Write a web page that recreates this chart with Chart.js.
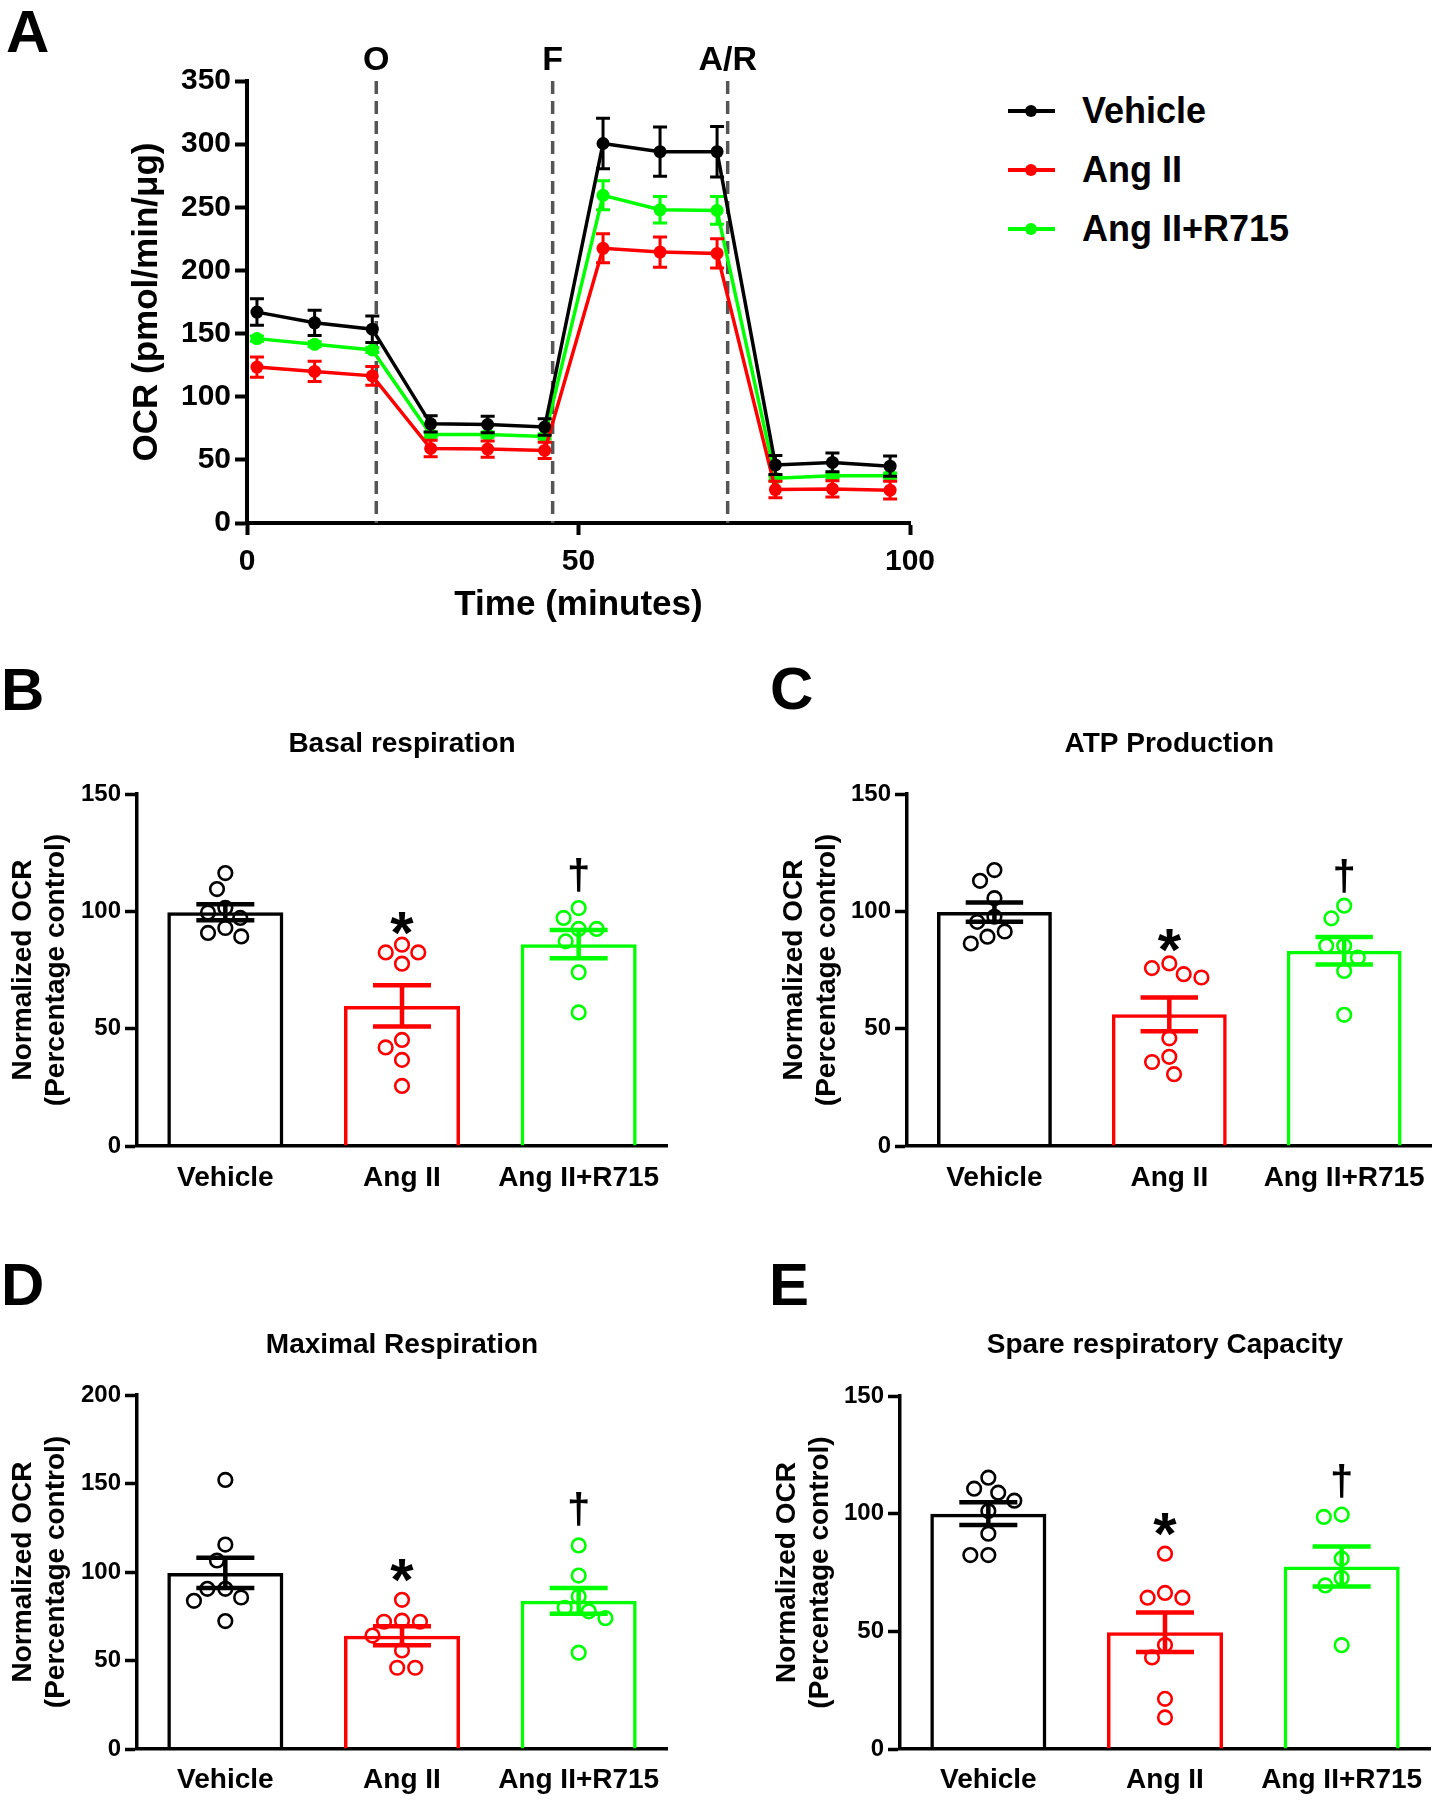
<!DOCTYPE html>
<html>
<head>
<meta charset="utf-8">
<script src="https://cdn.jsdelivr.net/npm/chart.js@4.4.1/dist/chart.umd.min.js"></script>
<style>
  html, body { margin: 0; padding: 0; background: #fff; }
  body { width: 1441px; height: 1800px; position: relative; overflow: hidden;
         font-family: 'Liberation Sans', Arial, Helvetica, sans-serif; }
  canvas { position: absolute; }
  .letter { position: absolute; font-weight: bold; font-size: 60px; line-height: 60px; color: #000; }
  .lg-row { position: absolute; height: 40px; width: 360px; }
  .lg-line { position: absolute; left: 0; top: 18px; width: 47px; height: 4px; }
  .lg-dot { position: absolute; left: 17px; top: 14px; width: 12px; height: 12px; border-radius: 50%; }
  .lg-text { position: absolute; left: 74px; top: 0; font-weight: bold; font-size: 36px; line-height: 40px; white-space: nowrap; color: #000; }
</style>
</head>
<body>
<canvas id="cA" width="1000" height="640" style="left:0;top:0"></canvas>
<canvas id="cB" width="700" height="506" style="left:0;top:700px"></canvas>
<canvas id="cC" width="721" height="506" style="left:720px;top:700px"></canvas>
<canvas id="cD" width="700" height="540" style="left:0;top:1260px"></canvas>
<canvas id="cE" width="721" height="540" style="left:720px;top:1260px"></canvas>
<div id="legend"></div>
<div class="letter" style="left:6px;top:2px">A</div>
<div class="letter" style="left:1px;top:660px">B</div>
<div class="letter" style="left:770px;top:659px">C</div>
<div class="letter" style="left:1px;top:1255px">D</div>
<div class="letter" style="left:769px;top:1255px">E</div>

<script>
// ---------------- DATA ----------------
// Panel A: Seahorse OCR time course
const seriesNames = ['Vehicle', 'Ang II', 'Ang II+R715'];
const seriesColors = ['#000000', '#ff0000', '#00ff00'];
const timeMin = [1.5, 10.2, 18.9, 27.7, 36.3, 44.9, 53.7, 62.3, 70.9, 79.7, 88.3, 97.0];
const ocrVehicle    = [167, 158.5, 153.5, 78.5, 78, 76, 300.5, 294, 294, 46, 48, 45];
const ocrVehicleSem = [10.5, 10, 10.5, 6.5, 6.5, 6.5, 20, 19.5, 20, 7.5, 7.5, 8];
const ocrAngII      = [123.5, 120, 116.5, 59, 58.5, 57.5, 217.5, 214.5, 213.5, 26.5, 27, 26];
const ocrAngIISem   = [8, 8, 7.5, 6.5, 6.5, 6.5, 11.5, 12, 11.5, 6.5, 6.5, 7];
const ocrR715       = [146, 141.5, 137, 70, 70, 68.5, 259.5, 248, 247.5, 35.5, 37.5, 37.5];
const ocrR715Sem    = [2, 2, 2, 2, 2, 2, 11.5, 10.5, 11, 2, 2, 2];
const injectionTimes  = [19.5, 46.1, 72.5];
const injectionLabels = ['O', 'F', 'A/R'];
const ocrTicksX = [0, 50, 100];
const ocrTicksY = [0, 50, 100, 150, 200, 250, 300, 350];

// Panels B-E: normalized OCR (% control)
const groups = ['Vehicle', 'Ang II', 'Ang II+R715'];
const sigSymbols = ['', '*', '\u2020'];

const basalMean = [99.6, 59.7, 86];
const basalSem  = [3.4, 8.8, 6];
const basalVehicle = [116.3, 109.5, 101.5, 99.5, 97.2, 92.9, 90.8, 89.3];
const basalAngII   = [85.8, 82.5, 82.5, 77.7, 45.2, 42, 36.7, 25.6];
const basalR715    = [101.4, 97.2, 92.5, 92.5, 87.2, 74, 56.9];
const basalSigY    = [null, 95, 115.5];

const atpMean = [99.7, 56.1, 83.2];
const atpSem  = [4.1, 7.2, 5.9];
const atpVehicle = [117.6, 113, 105.6, 97.7, 95.5, 91.4, 89.2, 86.3];
const atpAngII   = [77.8, 75.8, 73.2, 71.8, 45.9, 38, 35.8, 30.6];
const atpR715    = [102.4, 97, 85.3, 85.3, 80.3, 74.6, 55.9];
const atpSigY    = [null, 87.5, 115];

const maxMean = [99.5, 64, 83.7];
const maxSem  = [8.6, 5.4, 7.3];
const maxVehicle = [152, 115.5, 106.5, 90.5, 90.5, 85.6, 83.7, 72.3];
const maxAngII   = [84.3, 72.5, 71.9, 71.9, 64.1, 55.7, 45.9, 45.9];
const maxR715    = [115, 98, 86.2, 79.8, 77.8, 73.9, 54.4];
const maxSigY    = [null, 101, 135.5];

const spareMean = [100, 49.6, 77.5];
const spareSem  = [4.8, 8.4, 8.5];
const spareVehicle = [115.3, 110.6, 108.9, 105.5, 101.1, 91.5, 82.4, 82.4];
const spareAngII   = [83, 66.3, 64.3, 64.3, 44.2, 38.9, 21.3, 13.4];
const spareR715    = [99.6, 98.6, 80.9, 72.7, 69.5, 44.1];
const spareSigY    = [null, 95.5, 114];

// ---------------- STYLE / DEFAULTS ----------------
const FONT = "'Liberation Sans', Arial, Helvetica, sans-serif";
Chart.defaults.font.family = FONT;
Chart.defaults.font.weight = 'bold';
Chart.defaults.color = '#000';
Chart.defaults.animation = false;
Chart.defaults.events = [];
Chart.defaults.plugins.legend.display = false;
Chart.defaults.plugins.tooltip.enabled = false;

// ---------------- PANEL A ----------------
const injectionPlugin = {
  id: 'injections',
  beforeDatasetsDraw(chart) {
    const {ctx, chartArea} = chart;
    const xs = chart.scales.x;
    ctx.save();
    ctx.strokeStyle = '#555555';
    ctx.lineWidth = 3.5;
    ctx.setLineDash([13, 7]);
    injectionTimes.forEach(t => {
      const px = xs.getPixelForValue(t);
      ctx.beginPath();
      ctx.moveTo(px, chartArea.top);
      ctx.lineTo(px, chartArea.bottom);
      ctx.stroke();
    });
    ctx.restore();
  },
  afterDraw(chart) {
    const {ctx, chartArea} = chart;
    const xs = chart.scales.x;
    ctx.save();
    ctx.fillStyle = '#000';
    ctx.font = 'bold 34px ' + FONT;
    ctx.textAlign = 'center';
    ctx.textBaseline = 'alphabetic';
    injectionTimes.forEach((t, i) => {
      ctx.fillText(injectionLabels[i], xs.getPixelForValue(t), chartArea.top - 11);
    });
    ctx.restore();
  }
};

const errorBarPlugin = {
  id: 'errorBars',
  afterDatasetDraw(chart, args) {
    const ds = chart.data.datasets[args.index];
    if (!ds.errors) return;
    const ctx = chart.ctx, y = chart.scales.y;
    ctx.save();
    ctx.strokeStyle = ds.borderColor;
    ctx.lineWidth = 3;
    args.meta.data.forEach((pt, i) => {
      const v = ds.data[i].y, e = ds.errors[i];
      const y1 = y.getPixelForValue(v + e), y2 = y.getPixelForValue(v - e);
      ctx.beginPath();
      ctx.moveTo(pt.x, y1); ctx.lineTo(pt.x, y2);
      ctx.moveTo(pt.x - 7, y1); ctx.lineTo(pt.x + 7, y1);
      ctx.moveTo(pt.x - 7, y2); ctx.lineTo(pt.x + 7, y2);
      ctx.stroke();
    });
    ctx.restore();
  }
};

const lineSeries = [
  {y: ocrVehicle, e: ocrVehicleSem},
  {y: ocrAngII, e: ocrAngIISem},
  {y: ocrR715, e: ocrR715Sem}
];

const axisGrid = (w) => ({ drawOnChartArea: false, drawTicks: true, tickLength: 12, tickWidth: w, tickColor: '#000', color: '#000' });
const axisBorder = (w) => ({ display: true, color: '#000', width: w });

new Chart(document.getElementById('cA'), {
  type: 'line',
  data: {
    datasets: lineSeries.map((s, k) => ({
      label: seriesNames[k],
      data: timeMin.map((t, i) => ({x: t, y: s.y[i]})),
      errors: s.e,
      borderColor: seriesColors[k],
      backgroundColor: seriesColors[k],
      pointBackgroundColor: seriesColors[k],
      pointBorderColor: seriesColors[k],
      borderWidth: 3.5,
      pointRadius: 6.5,
      pointBorderWidth: 0,
      tension: 0,
      fill: false
    }))
  },
  options: {
    responsive: false,
    layout: { padding: { top: 81, right: 90, bottom: 14, left: 0 } },
    scales: {
      x: {
        type: 'linear', min: ocrTicksX[0], max: ocrTicksX[ocrTicksX.length - 1],
        afterBuildTicks: s => { s.ticks = ocrTicksX.map(v => ({value: v})); },
        ticks: { font: { size: 30 }, padding: 9, color: '#000' },
        grid: axisGrid(4), border: axisBorder(4),
        title: { display: true, text: 'Time (minutes)', font: { size: 35 }, padding: { top: 0, bottom: 0 }, color: '#000' },
        afterFit: s => { s.height = 103; }
      },
      y: {
        type: 'linear', min: ocrTicksY[0], max: ocrTicksY[ocrTicksY.length - 1],
        afterBuildTicks: s => { s.ticks = ocrTicksY.map(v => ({value: v})); },
        ticks: { font: { size: 30 }, padding: 4, color: '#000' },
        grid: axisGrid(4), border: axisBorder(4),
        title: { display: true, text: 'OCR (pmol/min/\u03bcg)', font: { size: 35 }, padding: { top: 126, bottom: 0 }, color: '#000' },
        afterFit: s => { s.width = 247; }
      }
    }
  },
  plugins: [injectionPlugin, errorBarPlugin]
});

// HTML legend for panel A
(function () {
  const lg = document.getElementById('legend');
  seriesNames.forEach((name, i) => {
    const row = document.createElement('div');
    row.className = 'lg-row';
    row.style.left = '1008px';
    row.style.top = (91 + i * 59) + 'px';
    row.innerHTML = '<div class="lg-line" style="background:' + seriesColors[i] + '"></div>' +
      '<div class="lg-dot" style="background:' + seriesColors[i] + '"></div>' +
      '<div class="lg-text"></div>';
    row.querySelector('.lg-text').textContent = name;
    lg.appendChild(row);
  });
})();

// ---------------- PANELS B-E ----------------
const semPlugin = {
  id: 'semBars',
  afterDatasetsDraw(chart) {
    const ds = chart.data.datasets[0];
    const meta = chart.getDatasetMeta(0);
    const y = chart.scales.y, ctx = chart.ctx;
    meta.data.forEach((bar, i) => {
      const m = ds.data[i], e = ds.sem[i];
      const yt = y.getPixelForValue(m + e), yb = y.getPixelForValue(m - e);
      const half = bar.width / 4;
      ctx.save();
      ctx.strokeStyle = seriesColors[i];
      ctx.lineWidth = 4.5;
      ctx.beginPath();
      ctx.moveTo(bar.x, yt); ctx.lineTo(bar.x, yb);
      ctx.moveTo(bar.x - half, yt); ctx.lineTo(bar.x + half, yt);
      ctx.moveTo(bar.x - half, yb); ctx.lineTo(bar.x + half, yb);
      ctx.stroke();
      ctx.restore();
      const s = ds.sigY[i];
      if (s !== null && s !== undefined) {
        const sym = sigSymbols[i];
        ctx.save();
        ctx.fillStyle = '#000';
        ctx.font = 'bold ' + (sym === '*' ? 60 : 42) + 'px ' + FONT;
        ctx.textAlign = 'center';
        ctx.textBaseline = 'alphabetic';
        const mt = ctx.measureText(sym);
        const cy = y.getPixelForValue(s);
        ctx.fillText(sym, bar.x, cy + (mt.actualBoundingBoxAscent - mt.actualBoundingBoxDescent) / 2);
        ctx.restore();
      }
    });
  }
};

function swarmOffsets(chart, values, minDist) {
  const ys = chart.scales.y, xs = chart.scales.xs;
  const unitPx = xs.getPixelForValue(1) - xs.getPixelForValue(0);
  const order = values.map((v, i) => i).sort((a, b) => values[b] - values[a]);
  const placed = [];
  const off = new Array(values.length).fill(0);
  order.forEach(i => {
    const py = ys.getPixelForValue(values[i]);
    const cands = [0];
    placed.forEach(p => {
      const dy = Math.abs(py - p.y);
      if (dy < minDist) {
        const dx = Math.sqrt(minDist * minDist - dy * dy);
        cands.push(p.x + dx, p.x - dx);
      }
    });
    cands.sort((a, b) => (Math.abs(a) - Math.abs(b)) || (a - b));
    let chosen = 0;
    for (const c of cands) {
      if (placed.every(p => (c - p.x) * (c - p.x) + (py - p.y) * (py - p.y) >= minDist * minDist - 0.01)) { chosen = c; break; }
    }
    placed.push({x: chosen, y: py});
    off[i] = chosen / unitPx;
  });
  return off;
}

function barPanel(id, cfg) {
  const chart = new Chart(document.getElementById(id), {
    type: 'bar',
    data: {
      labels: groups,
      datasets: [
        {
          type: 'bar', data: cfg.means, sem: cfg.sems, sigY: cfg.sigY,
          borderColor: seriesColors, backgroundColor: 'rgba(255,255,255,0)',
          borderWidth: 3.5, barPercentage: 0.657, categoryPercentage: 1, grouped: false,
          xAxisID: 'x', yAxisID: 'y', order: 2
        },
        ...cfg.points.map((vals, g) => ({
          type: 'scatter', data: vals.map(v => ({x: g, y: v})),
          xAxisID: 'xs', yAxisID: 'y', order: 1, showLine: false,
          pointRadius: 6.8, pointBorderWidth: 2.6,
          pointBorderColor: seriesColors[g], pointBackgroundColor: 'rgba(0,0,0,0)'
        }))
      ]
    },
    options: {
      responsive: false,
      layout: { padding: { top: 0, left: 0, right: cfg.padRight, bottom: 0 } },
      plugins: {
        title: { display: true, text: cfg.title, fullSize: false, color: '#000',
                 font: { size: 28, lineHeight: 1.2 }, padding: { top: cfg.titleTop, bottom: cfg.titleBottom } }
      },
      scales: {
        x: {
          type: 'category', offset: true,
          grid: { display: false }, border: axisBorder(3.5),
          ticks: { font: { size: 28 }, padding: cfg.xPad, color: '#000' },
          afterFit: s => { s.height = cfg.xHeight; }
        },
        xs: { type: 'linear', display: false, min: -0.5, max: 2.5, offset: false },
        y: {
          type: 'linear', min: 0, max: cfg.yMax,
          ticks: { stepSize: 50, font: { size: 24 }, padding: 4, color: '#000' },
          grid: axisGrid(3.5), border: axisBorder(3.5),
          title: { display: true, text: ['Normalized OCR', '(Percentage control)'], color: '#000',
                   font: { size: 28, lineHeight: 1.2 }, padding: { top: cfg.yTitlePad, bottom: 0 } },
          afterFit: s => { s.width = cfg.yWidth; }
        }
      }
    },
    plugins: [semPlugin]
  });
  cfg.points.forEach((vals, g) => {
    const off = swarmOffsets(chart, vals, 18);
    chart.data.datasets[g + 1].data = vals.map((v, i) => ({x: g + off[i], y: v}));
  });
  chart.update('none');
  return chart;
}

barPanel('cB', {
  title: 'Basal respiration', yMax: 150,
  means: basalMean, sems: basalSem, sigY: basalSigY,
  points: [basalVehicle, basalAngII, basalR715],
  padRight: 33, titleTop: 27, titleBottom: 33.4, xPad: 7, xHeight: 60, yWidth: 137, yTitlePad: 6
});
barPanel('cC', {
  title: 'ATP Production', yMax: 150,
  means: atpMean, sems: atpSem, sigY: atpSigY,
  points: [atpVehicle, atpAngII, atpR715],
  padRight: 3, titleTop: 27, titleBottom: 33.4, xPad: 7, xHeight: 60, yWidth: 187, yTitlePad: 57
});
barPanel('cD', {
  title: 'Maximal Respiration', yMax: 200,
  means: maxMean, sems: maxSem, sigY: maxSigY,
  points: [maxVehicle, maxAngII, maxR715],
  padRight: 33, titleTop: 68.2, titleBottom: 33.2, xPad: 6, xHeight: 51, yWidth: 137, yTitlePad: 6
});
barPanel('cE', {
  title: 'Spare respiratory Capacity', yMax: 150,
  means: spareMean, sems: spareSem, sigY: spareSigY,
  points: [spareVehicle, spareAngII, spareR715],
  padRight: 11, titleTop: 68.2, titleBottom: 34.2, xPad: 6, xHeight: 51, yWidth: 180, yTitlePad: 50
});
</script>
</body>
</html>
